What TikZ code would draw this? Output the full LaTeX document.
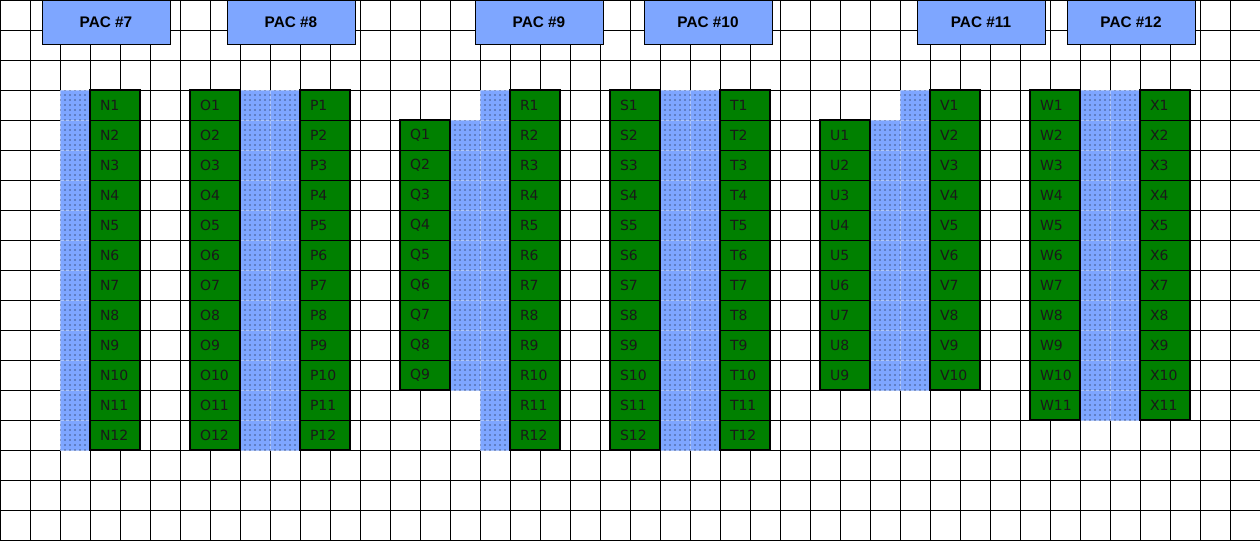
\documentclass[tikz,border=0pt]{standalone}
\usepackage{fontspec}
\newfontfamily\slotfont{DejaVu Sans}
\newfontfamily\headfont{Liberation Sans}
\usetikzlibrary{patterns}
\definecolor{pacBlue}{RGB}{126,166,255}
\definecolor{bayEdge}{RGB}{172,198,255}
\definecolor{slotGreen}{RGB}{0,128,0}
\pgfdeclarepatternformonly{celldots}{\pgfqpoint{-0.5pt}{-0.5pt}}{\pgfqpoint{0.5pt}{0.5pt}}%
  {\pgfqpoint{3.75pt}{3.75pt}}{\pgfpathcircle{\pgfpointorigin}{0.4pt}\pgfusepath{fill}}

\begin{document}
\begin{tikzpicture}[
    x=0.75pt, y=-0.75pt,
    gridline/.style={draw=black, line width=0.75pt},
    pachead/.style={rectangle, draw=black, fill=pacBlue, line width=0.75pt,
                 minimum width=96pt, minimum height=33pt, inner sep=0pt,
                 font=\headfont\bfseries\fontsize{11.5pt}{13pt}\selectfont},
    slot/.style={rectangle, draw=black, fill=slotGreen, line width=0.75pt,
                 minimum height=22.5pt, text width=22.5pt, inner xsep=7.5pt,
                 inner ysep=0pt, outer sep=0pt, align=left, text=black!90,
                 font=\slotfont\fontsize{10.5pt}{12pt}\selectfont},
    slotframe/.style={draw=black, line width=1.5pt},
    bay/.style={fill=pacBlue, draw=bayEdge, line width=0.5pt,
                 postaction={pattern=celldots, pattern color=black}},
  ]
    \useasboundingbox (0,0) rectangle (1260,540);

    % background grid
    \foreach \gx in {0,30,...,1260} \draw[gridline] (\gx,0) -- (\gx,540);
    \foreach \gy in {0,30,...,540} \draw[gridline] (0,\gy) -- (1260,\gy);

    % PAC #7
    \foreach \r in {1,...,12}{
      \path[bay] (60,60+30*\r) rectangle +(30,30);
      \node[slot] (N\r) at (115,75+30*\r) {N\r};
    }
    \draw[slotframe] (N1.north west) rectangle (N12.south east);

    % PAC #8
    \foreach \r in {1,...,12}{
      \path[bay] (240,60+30*\r) rectangle +(30,30);
      \path[bay] (270,60+30*\r) rectangle +(30,30);
      \node[slot] (O\r) at (215,75+30*\r) {O\r};
      \node[slot] (P\r) at (325,75+30*\r) {P\r};
    }
    \draw[slotframe] (O1.north west) rectangle (O12.south east);
    \draw[slotframe] (P1.north west) rectangle (P12.south east);

    % PAC #9
    \foreach \r in {1,...,9}{
      \path[bay] (450,90+30*\r) rectangle +(30,30);
      \node[slot] (Q\r) at (425,105+30*\r) {Q\r};
    }
    \foreach \r in {1,...,12}{
      \path[bay] (480,60+30*\r) rectangle +(30,30);
      \node[slot] (R\r) at (535,75+30*\r) {R\r};
    }
    \draw[slotframe] (Q1.north west) rectangle (Q9.south east);
    \draw[slotframe] (R1.north west) rectangle (R12.south east);

    % PAC #10
    \foreach \r in {1,...,12}{
      \path[bay] (660,60+30*\r) rectangle +(30,30);
      \path[bay] (690,60+30*\r) rectangle +(30,30);
      \node[slot] (S\r) at (635,75+30*\r) {S\r};
      \node[slot] (T\r) at (745,75+30*\r) {T\r};
    }
    \draw[slotframe] (S1.north west) rectangle (S12.south east);
    \draw[slotframe] (T1.north west) rectangle (T12.south east);

    % PAC #11
    \foreach \r in {1,...,9}{
      \path[bay] (870,90+30*\r) rectangle +(30,30);
      \node[slot] (U\r) at (845,105+30*\r) {U\r};
    }
    \foreach \r in {1,...,10}{
      \path[bay] (900,60+30*\r) rectangle +(30,30);
      \node[slot] (V\r) at (955,75+30*\r) {V\r};
    }
    \draw[slotframe] (U1.north west) rectangle (U9.south east);
    \draw[slotframe] (V1.north west) rectangle (V10.south east);

    % PAC #12
    \foreach \r in {1,...,11}{
      \path[bay] (1080,60+30*\r) rectangle +(30,30);
      \path[bay] (1110,60+30*\r) rectangle +(30,30);
      \node[slot] (W\r) at (1055,75+30*\r) {W\r};
      \node[slot] (X\r) at (1165,75+30*\r) {X\r};
    }
    \draw[slotframe] (W1.north west) rectangle (W11.south east);
    \draw[slotframe] (X1.north west) rectangle (X11.south east);

    % headers
    \node[pachead] (pac7)  at (106,22)  {PAC \#7};
    \node[pachead] (pac8)  at (291,22)  {PAC \#8};
    \node[pachead] (pac9)  at (539,22)  {PAC \#9};
    \node[pachead] (pac10) at (708,22)  {PAC \#10};
    \node[pachead] (pac11) at (981,22)  {PAC \#11};
    \node[pachead] (pac12) at (1131,22) {PAC \#12};
  \end{tikzpicture}
\end{document}
